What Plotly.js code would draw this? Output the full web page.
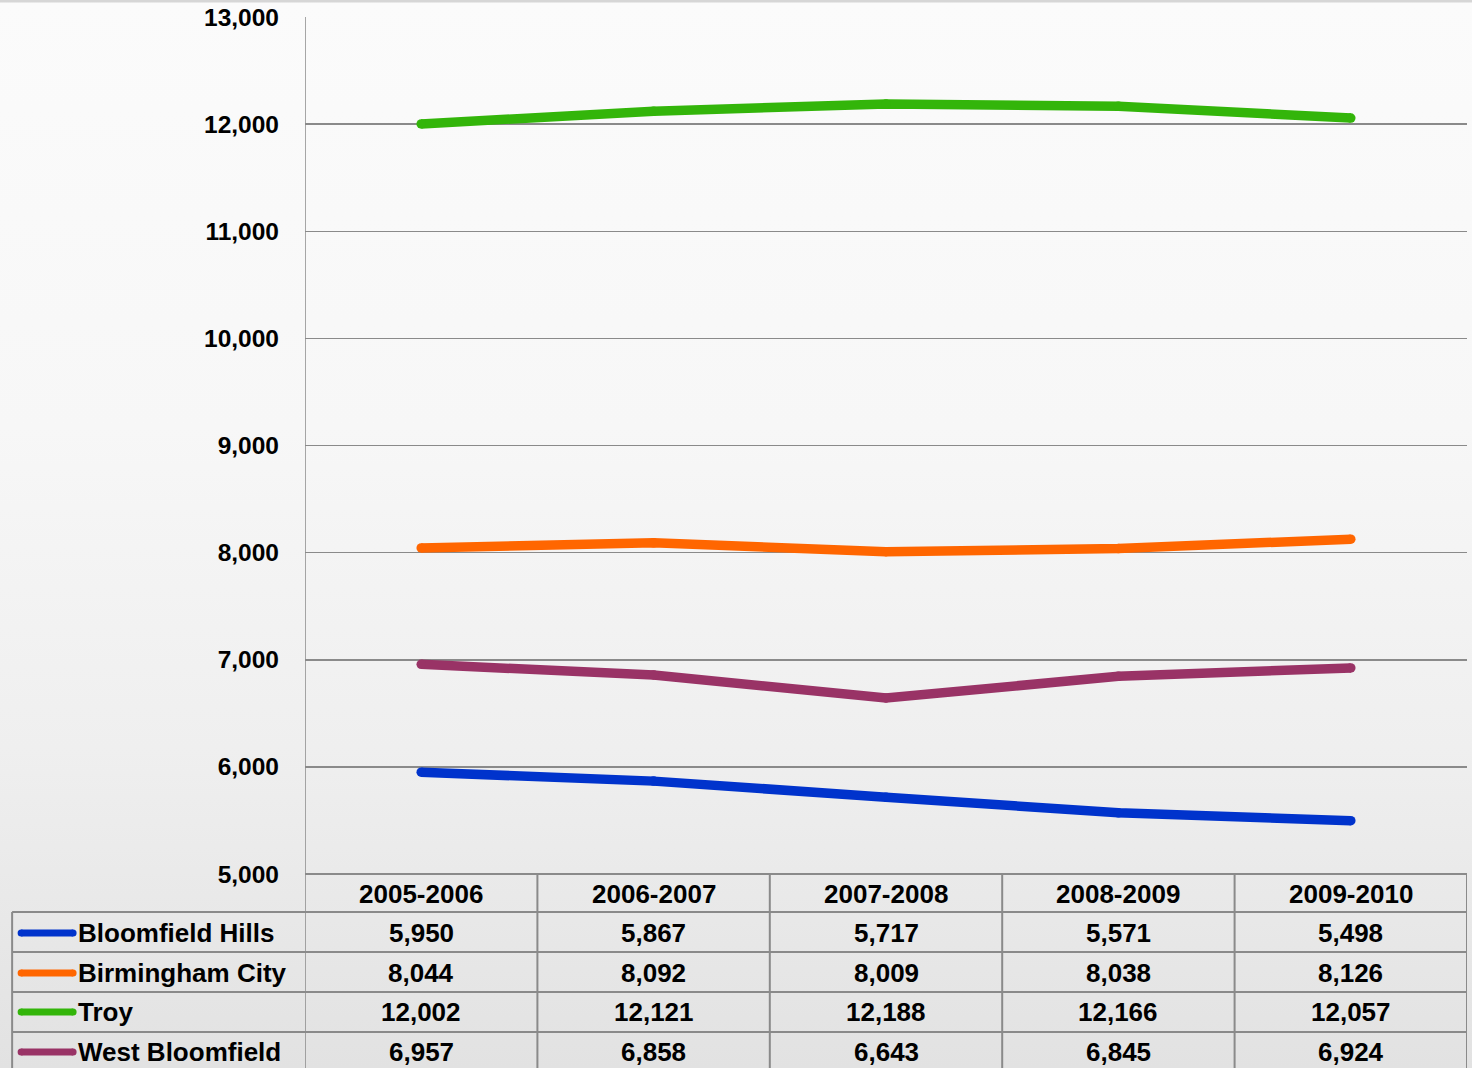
<!DOCTYPE html>
<html><head><meta charset="utf-8">
<script src="https://cdn.plot.ly/plotly-3.0.1.min.js"></script>
<style>
html,body{margin:0;padding:0;width:1472px;height:1068px;overflow:hidden;}
body{background:linear-gradient(to bottom,#d6d6d6 0px,#d6d6d6 2px,#fbfbfb 3px,#f7f7f7 40%,#efefef 70%,#e2e2e2 100%);}
#chart{width:1472px;height:1068px;}
</style></head>
<body><div id="chart"></div>
<script>
const years = ["2005-2006","2006-2007","2007-2008","2008-2009","2009-2010"];
const seriesNames = ["Bloomfield Hills","Birmingham City","Troy","West Bloomfield"];
const bloomfieldHills = [5950,5867,5717,5571,5498];
const birminghamCity = [8044,8092,8009,8038,8126];
const troy = [12002,12121,12188,12166,12057];
const westBloomfield = [6957,6858,6643,6845,6924];
const seriesColors = ["#0033CC","#FF6600","#33B50A","#993366"];
const yTicks = [5000,6000,7000,8000,9000,10000,11000,12000,13000];

const allValues = [bloomfieldHills,birminghamCity,troy,westBloomfield];
const idx = years.map((_,i)=>i);

const traces = allValues.map((vals,s)=>({
  type:'scatter', mode:'lines+markers', x:idx, y:vals, name:seriesNames[s],
  line:{color:seriesColors[s], width:9.5},
  marker:{color:seriesColors[s], size:9.5, line:{width:0}},
  hoverinfo:'skip'
}));

const plotTop = 17, plotBot = 874, plotH = plotBot-plotTop, plotL = 305, plotW = 1162.5;
const py = p => (plotBot - p)/plotH;
const px = p => (p - plotL)/plotW;
const rowLines = [912,952,992,1032].map(py);
const rowCenters = [933,973,1012,1052].map(py);
const headerCenter = py(894);
const bottomY = py(1080);

const font = {family:'"Liberation Sans", Arial, sans-serif', color:'#000', size:26};
const lineCol = '#8a8a8a';

const shapes = [];
shapes.push({type:'line', xref:'paper', yref:'paper', x0:0, x1:1, y0:0, y1:0, line:{color:lineCol,width:2}});
rowLines.forEach(y=>shapes.push({type:'line', xref:'paper', yref:'paper', x0:px(12), x1:1, y0:y, y1:y, line:{color:lineCol,width:2}}));
for(let i=0;i<=years.length;i++){
  shapes.push({type:'line', xref:'x', yref:'paper', x0:i-0.5, x1:i-0.5, y0:(i===0?1:0), y1:bottomY, line:{color:lineCol,width:(i===0?1.5:2)}});
}
shapes.push({type:'line', xref:'paper', yref:'paper', x0:px(12), x1:px(12), y0:rowLines[0], y1:bottomY, line:{color:lineCol,width:2}});
seriesNames.forEach((n,s)=>{
  const c = seriesColors[s];
  shapes.push({type:'line', xref:'paper', yref:'paper', x0:px(21), x1:px(73), y0:rowCenters[s], y1:rowCenters[s], line:{color:c,width:7}});
  [px(21),px(73)].forEach(xc=>shapes.push({type:'circle', xref:'paper', yref:'paper', xsizemode:'pixel', ysizemode:'pixel',
    xanchor:xc, yanchor:rowCenters[s], x0:-3.5, x1:3.5, y0:-3.5, y1:3.5, fillcolor:c, line:{width:0}}));
});

const annotations = [];
years.forEach((yr,i)=>annotations.push({xref:'x', yref:'paper', x:i, y:headerCenter, text:'<b>'+yr+'</b>', showarrow:false, font:font, xanchor:'center', yanchor:'middle'}));
allValues.forEach((vals,s)=>{
  annotations.push({xref:'paper', yref:'paper', x:px(76), y:rowCenters[s], text:'<b>'+seriesNames[s]+'</b>', showarrow:false, font:font, xanchor:'left', yanchor:'middle'});
  vals.forEach((v,i)=>annotations.push({xref:'x', yref:'paper', x:i, y:rowCenters[s], text:'<b>'+v.toLocaleString('en-US')+'</b>', showarrow:false, font:font, xanchor:'center', yanchor:'middle'}));
});

const layout = {
  width:1472, height:1068,
  margin:{l:305, r:4.5, t:17, b:194},
  paper_bgcolor:'rgba(0,0,0,0)', plot_bgcolor:'rgba(0,0,0,0)',
  showlegend:false,
  separators:'.,',
  xaxis:{range:[-0.5,4.5], showticklabels:false, showgrid:false, zeroline:false, showline:false, ticks:'', fixedrange:true},
  yaxis:{range:[5000,13000], tickvals:yTicks, ticktext:yTicks.map(v=>v.toLocaleString('en-US')),
    showgrid:true, gridcolor:lineCol, gridwidth:1.5, zeroline:false, showline:false,
    ticks:'', ticklabelstandoff:25,
    tickfont:{family:'"Liberation Sans", Arial, sans-serif', size:24.5, color:'#000', weight:'bold'}},
  shapes:shapes, annotations:annotations
};

Plotly.newPlot('chart', traces, layout, {staticPlot:true, displayModeBar:false});
</script></body></html>
